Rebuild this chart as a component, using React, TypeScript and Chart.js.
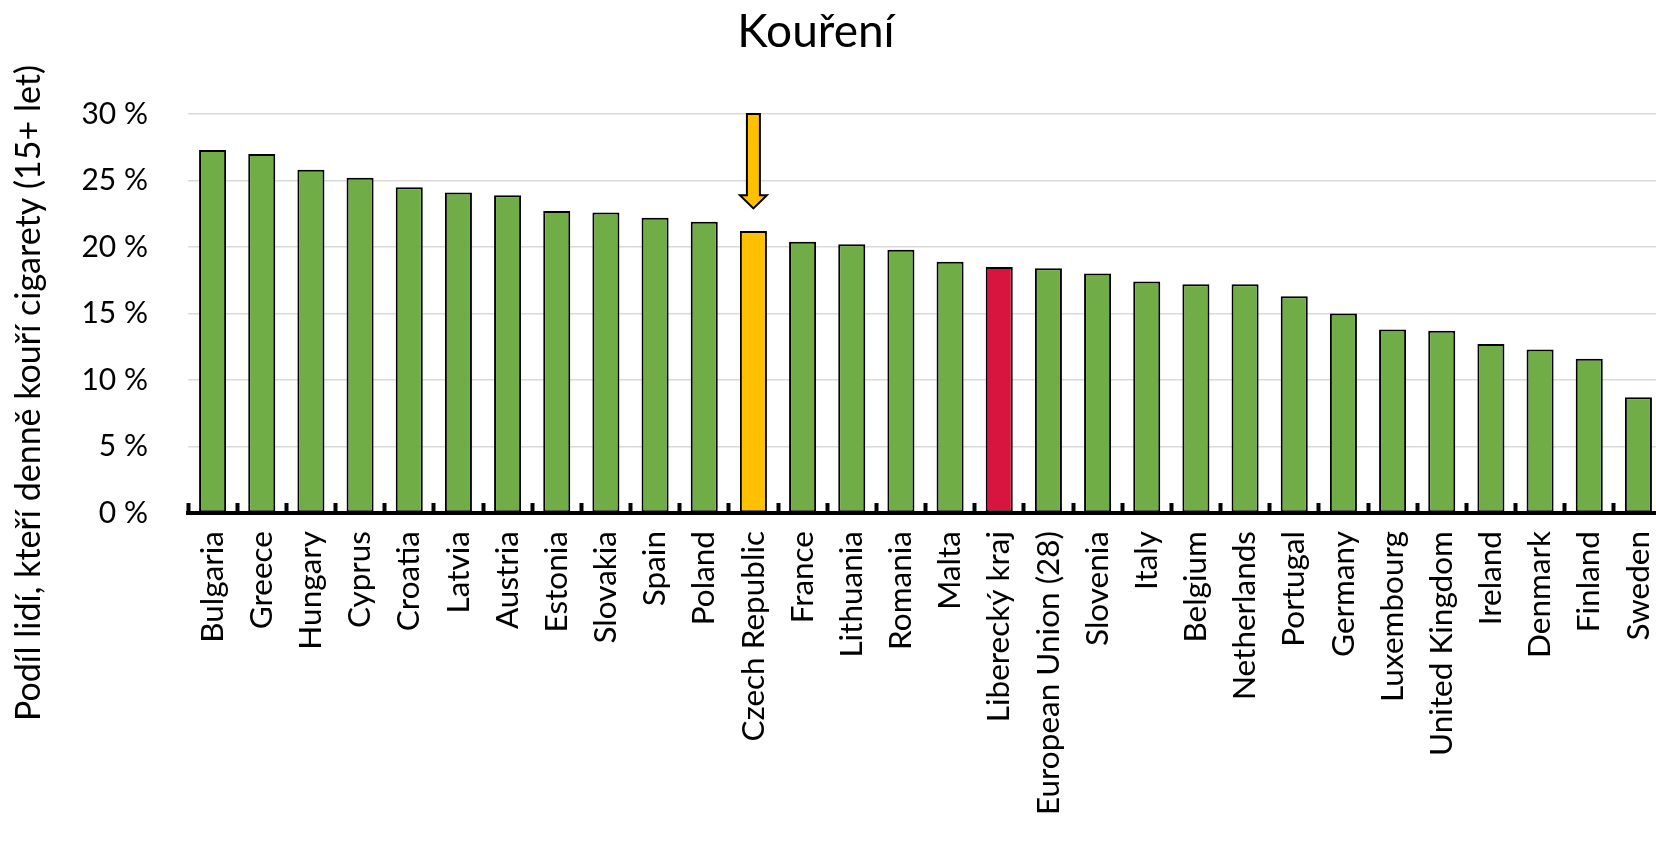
import React, { useEffect, useRef } from "react";
import { Chart, registerables } from "chart.js";

Chart.register(...registerables);

const chartTitle = "Kouření";
const yAxisTitle = "Podíl lidí, kteří denně kouří cigarety (15+ let)";

const categories = [
  "Bulgaria", "Greece", "Hungary", "Cyprus", "Croatia", "Latvia", "Austria",
  "Estonia", "Slovakia", "Spain", "Poland", "Czech Republic", "France",
  "Lithuania", "Romania", "Malta", "Liberecký kraj", "European Union (28)",
  "Slovenia", "Italy", "Belgium", "Netherlands", "Portugal", "Germany",
  "Luxembourg", "United Kingdom", "Ireland", "Denmark", "Finland", "Sweden",
];

const smokingShare = [
  27.3, 27.0, 25.8, 25.2, 24.5, 24.1, 23.9, 22.7, 22.6, 22.2, 21.9, 21.2,
  20.4, 20.2, 19.8, 18.9, 18.5, 18.4, 18.0, 17.4, 17.2, 17.2, 16.3, 15.0,
  13.8, 13.7, 12.7, 12.3, 11.6, 8.7,
];

const yTicks = [0, 5, 10, 15, 20, 25, 30];

const countryHighlight = "Czech Republic";
const regionHighlight = "Liberecký kraj";

// arrow marker above the Czech Republic bar (values in %)
const arrowFrom = 30;
const arrowHeadStart = 23.9;
const arrowTo = 22.9;

const GREEN = "#70AD47";
const YELLOW = "#FFC000";
const RED = "#D7153F";
const FONT = "Lato, 'Open Sans', sans-serif";

const W = 1672;
const H = 850;

export default function App() {
  const ref = useRef<HTMLCanvasElement | null>(null);

  useEffect(() => {
    document.body.style.margin = "0";
    const canvas = ref.current;
    if (!canvas) return;

    const colors = categories.map((c) =>
      c === countryHighlight ? YELLOW : c === regionHighlight ? RED : GREEN
    );

    const overlay = {
      id: "overlay",
      afterDatasetsDraw(chart: any) {
        const { ctx, scales } = chart;
        const x = scales.x;
        const y = scales.y;
        const idx = categories.indexOf(countryHighlight);
        const cx = x.getPixelForValue(idx);
        const yTop = y.getPixelForValue(arrowFrom);
        const yHead = y.getPixelForValue(arrowHeadStart);
        const yTip = y.getPixelForValue(arrowTo);
        const shaftW = 13;
        const headW = 27;
        ctx.save();
        ctx.beginPath();
        ctx.moveTo(cx - shaftW / 2, yTop);
        ctx.lineTo(cx + shaftW / 2, yTop);
        ctx.lineTo(cx + shaftW / 2, yHead);
        ctx.lineTo(cx + headW / 2, yHead);
        ctx.lineTo(cx, yTip);
        ctx.lineTo(cx - headW / 2, yHead);
        ctx.lineTo(cx - shaftW / 2, yHead);
        ctx.closePath();
        ctx.fillStyle = YELLOW;
        ctx.fill();
        ctx.lineWidth = 2;
        ctx.lineJoin = "miter";
        ctx.strokeStyle = "#000";
        ctx.stroke();
        ctx.restore();
      },
      afterDraw(chart: any) {
        const { ctx } = chart;
        ctx.save();
        ctx.fillStyle = "#000";
        ctx.font = `46px ${FONT}`;
        ctx.textAlign = "center";
        ctx.textBaseline = "alphabetic";
        ctx.fillText(chartTitle, 816, 47);

        ctx.translate(29, 393);
        ctx.rotate(-Math.PI / 2);
        ctx.font = `34px ${FONT}`;
        ctx.textAlign = "center";
        ctx.textBaseline = "middle";
        ctx.fillText(yAxisTitle, 0, 0);
        ctx.restore();
      },
    };

    const chart = new Chart(canvas, {
      type: "bar",
      data: {
        labels: categories,
        datasets: [
          {
            data: smokingShare,
            backgroundColor: colors,
            borderColor: "#000",
            borderWidth: 2,
            borderSkipped: false,
            barPercentage: 0.55,
            categoryPercentage: 1,
          },
        ],
      },
      options: {
        animation: false,
        responsive: false,
        devicePixelRatio: 1,
        layout: { padding: { top: 114, right: W - 1663, bottom: 0, left: 0 } },
        plugins: {
          legend: { display: false },
          title: { display: false },
          tooltip: { enabled: false },
        },
        scales: {
          x: {
            grid: {
              display: true,
              offset: true,
              drawOnChartArea: false,
              drawTicks: true,
              tickLength: -10,
              tickWidth: 4,
              tickColor: "#000",
            },
            border: { display: true, color: "#000", width: 4 },
            ticks: {
              color: "#000",
              font: { family: FONT, size: 31.5 },
              minRotation: 90,
              maxRotation: 90,
              autoSkip: false,
              padding: 28,
            },
            afterFit(scale: any) {
              scale.height = H - 513;
              scale.paddingLeft = 0;
              scale.paddingRight = 0;
            },
          },
          y: {
            min: 0,
            max: 30,
            afterBuildTicks(scale: any) {
              scale.ticks = yTicks.map((v) => ({ value: v }));
            },
            grid: {
              color: "#D9D9D9",
              lineWidth: 1.5,
              drawTicks: false,
            },
            border: { display: false },
            ticks: {
              color: "#000",
              font: { family: FONT, size: 30 },
              padding: 40,
              callback: (v: any) => `${v} %`,
            },
            afterFit(scale: any) {
              scale.width = 188;
              scale.paddingTop = 0;
              scale.paddingBottom = 0;
            },
          },
        },
      },
      plugins: [overlay],
    });

    return () => chart.destroy();
  }, []);

  return (
    <div
      style={{
        position: "fixed",
        left: 0,
        top: 0,
        width: 1656,
        height: H,
        overflow: "hidden",
        background: "#fff",
      }}
    >
      <canvas ref={ref} width={W} height={H} style={{ width: W, height: H, display: "block" }} />
    </div>
  );
}
